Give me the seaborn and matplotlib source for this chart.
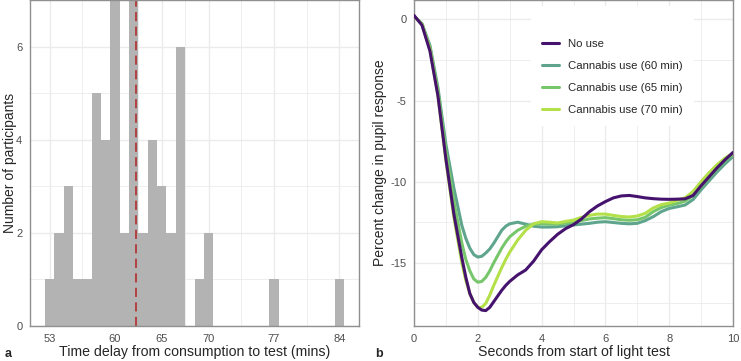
import matplotlib
matplotlib.use("Agg")
import matplotlib.pyplot as plt
import numpy as np
import pandas as pd
import seaborn as sns

# panel a: histogram of delay (mins) -> number of participants
delay_mins = [53, 54, 55, 56, 57, 58, 59, 60, 61, 62, 63, 64, 65, 66, 67, 69, 70, 77, 84]
n_participants = [1, 2, 3, 1, 1, 5, 4, 7, 2, 7, 2, 4, 3, 2, 6, 1, 2, 1, 1]
delay_ticks = [53, 60, 65, 70, 77, 84]

# panel b: pupil response curves
secs = [0.0, 0.25, 0.5, 0.75, 1.0, 1.25, 1.5, 1.625, 1.75, 1.875, 2.0, 2.125, 2.25,
        2.375, 2.5, 2.625, 2.75, 2.875, 3.0, 3.25, 3.5, 3.75, 4.0, 4.25, 4.5, 4.75,
        5.0, 5.25, 5.5, 5.75, 6.0, 6.25, 6.5, 6.75, 7.0, 7.25, 7.5, 7.75, 8.0, 8.25,
        8.5, 8.75, 9.0, 9.25, 9.5, 9.75, 10.0]
no_use = [0.25, -0.35, -1.95, -4.7, -8.6, -12.0, -14.7, -15.9, -16.9, -17.45, -17.75,
          -17.92, -17.95, -17.75, -17.4, -17.05, -16.7, -16.4, -16.15, -15.75, -15.45,
          -14.9, -14.2, -13.7, -13.25, -12.9, -12.65, -12.3, -11.85, -11.5, -11.23,
          -11.0, -10.88, -10.85, -10.92, -11.0, -11.05, -11.08, -11.09, -11.08, -11.06,
          -10.85, -10.25, -9.7, -9.15, -8.65, -8.2]
use_60 = [0.2, -0.25, -1.6, -4.2, -7.7, -10.4, -12.7, -13.5, -14.1, -14.5, -14.65,
          -14.6, -14.4, -14.15, -13.8, -13.4, -13.0, -12.75, -12.6, -12.5, -12.62,
          -12.75, -12.8, -12.8, -12.78, -12.72, -12.67, -12.62, -12.57, -12.5, -12.47,
          -12.52, -12.57, -12.6, -12.57, -12.4, -12.16, -11.85, -11.65, -11.55, -11.44,
          -11.1, -10.5, -9.95, -9.4, -8.9, -8.45]
use_65 = [0.2, -0.3, -1.75, -4.4, -8.1, -11.2, -13.8, -14.8, -15.5, -16.0, -16.2,
          -16.15, -15.9, -15.5, -15.0, -14.55, -14.1, -13.72, -13.4, -13.0, -12.75,
          -12.62, -12.6, -12.62, -12.62, -12.55, -12.5, -12.4, -12.3, -12.25, -12.22,
          -12.28, -12.35, -12.38, -12.35, -12.2, -11.85, -11.6, -11.45, -11.35, -11.2,
          -10.85, -10.3, -9.75, -9.2, -8.7, -8.3]
use_70 = [0.2, -0.3, -1.85, -4.7, -8.7, -12.2, -15.0, -16.1, -16.9, -17.45, -17.75,
          -17.75, -17.5, -17.0, -16.4, -15.85, -15.3, -14.8, -14.35, -13.6, -13.0,
          -12.6, -12.47, -12.5, -12.55, -12.45, -12.37, -12.2, -12.08, -12.0, -12.0,
          -12.08, -12.15, -12.18, -12.12, -11.95, -11.62, -11.42, -11.32, -11.15, -11.0,
          -10.6, -10.0, -9.45, -8.95, -8.55, -8.25]
groups = ["No use", "Cannabis use (60 min)", "Cannabis use (65 min)", "Cannabis use (70 min)"]
group_colors = ["#45126d", "#5fa58e", "#78c66c", "#b4e04a"]

sns.set_theme(style="white")
plt.rcParams["font.family"] = ["Liberation Sans", "DejaVu Sans"]
plt.rcParams["axes.unicode_minus"] = False

GRID = "#ebebeb"
FRAME = "#8f8f8f"
TICKTXT = "#4d4d4d"

fig = plt.figure(figsize=(7.41, 3.61), dpi=100)
ax1 = fig.add_axes([30 / 741, 35 / 361, 329 / 741, 326 / 361])
ax2 = fig.add_axes([414 / 741, 35 / 361, 319 / 741, 326 / 361])


def style_axes(ax):
    ax.set_axisbelow(True)
    ax.grid(True, which="major", color=GRID, linewidth=1.0)
    ax.grid(True, which="minor", color=GRID, linewidth=0.6)
    for s in ax.spines.values():
        s.set_color(FRAME)
        s.set_linewidth(1.0)
        s.set_visible(True)
    ax.tick_params(axis="both", which="major", direction="out", length=3.5, width=0.8,
                   color=FRAME, labelcolor=TICKTXT, labelsize=8, pad=2)
    ax.tick_params(axis="both", which="minor", length=0)


# ---- panel a
sns.histplot(x=delay_mins, weights=n_participants, discrete=True, shrink=1,
             color="#b3b3b3", edgecolor="none", alpha=1, ax=ax1)
mean_delay = np.average(delay_mins, weights=n_participants)
ax1.axvline(mean_delay, color="#b22222", linestyle=(0, (6, 3.5)), linewidth=1.1)
ax1.set_xlim(50.9, 86.1)
ax1.set_ylim(0, 7)
ax1.set_xticks(delay_ticks)
ax1.set_xticks([56.5, 62.5, 67.5, 73.5, 80.5], minor=True)
ax1.set_yticks([0, 2, 4, 6])
ax1.set_yticks([1, 3, 5, 7], minor=True)
ax1.set_xlabel("Time delay from consumption to test (mins)", fontsize=10.2, labelpad=1)
ax1.set_ylabel("Number of participants", fontsize=10)
ax1.yaxis.set_label_coords(-13 / 329, 0.5)
style_axes(ax1)

# ---- panel b
df = pd.concat([
    pd.DataFrame({"secs": secs, "pct": vals, "group": g})
    for g, vals in zip(groups, [no_use, use_60, use_65, use_70])
])
sns.lineplot(data=df, x="secs", y="pct", hue="group", hue_order=groups,
             palette=group_colors, linewidth=2.2, ax=ax2)
ax2.lines[0].set_zorder(4)
ax2.set_xlim(0, 10)
ax2.set_ylim(-18.9, 1.2)
ax2.set_xticks([0, 2, 4, 6, 8, 10])
ax2.set_xticks([1, 3, 5, 7, 9], minor=True)
ax2.set_yticks([0, -5, -10, -15])
ax2.set_yticks([-2.5, -7.5, -12.5, -17.5], minor=True)
ax2.set_xlabel("Seconds from start of light test", fontsize=10.2, labelpad=1)
ax2.set_ylabel("Percent change in pupil response", fontsize=10)
ax2.yaxis.set_label_coords(-27 / 319, 0.5)
style_axes(ax2)
handles, labels = ax2.get_legend_handles_labels()
leg = ax2.legend(handles, labels, loc="upper left", bbox_to_anchor=(0.348, 1.0),
                 title=" ", title_fontsize=7,
                 frameon=True, facecolor="white", edgecolor="none", framealpha=1,
                 fontsize=8.2, handlelength=1.5, handletextpad=0.8, labelspacing=1.05,
                 borderpad=1.0, fancybox=False)
for line in leg.get_lines():
    line.set_linewidth(2.2)

fig.text(5 / 741, 1 - 357 / 361, "a", fontsize=9, fontweight="bold", va="baseline")
fig.text(375 / 741, 1 - 357 / 361, "b", fontsize=9, fontweight="bold", va="baseline")

fig.savefig("out.png", dpi=100)
